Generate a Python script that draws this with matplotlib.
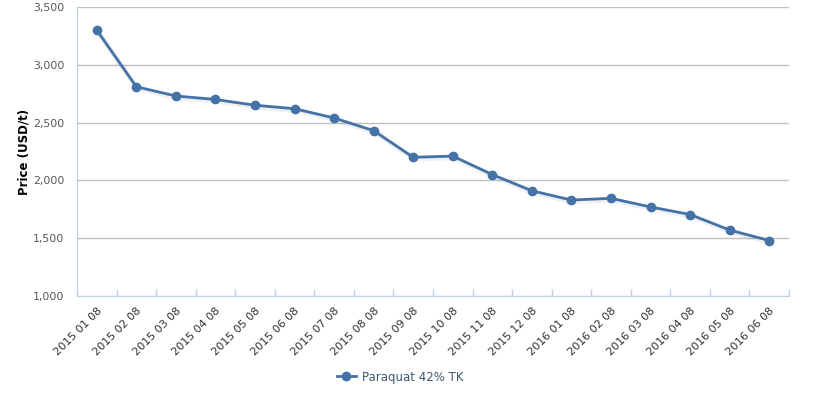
import numpy as np
import matplotlib.pyplot as plt
import matplotlib.transforms as mtransforms

# data
dates = ['2015 01 08', '2015 02 08', '2015 03 08', '2015 04 08', '2015 05 08', '2015 06 08',
         '2015 07 08', '2015 08 08', '2015 09 08', '2015 10 08', '2015 11 08', '2015 12 08',
         '2016 01 08', '2016 02 08', '2016 03 08', '2016 04 08', '2016 05 08', '2016 06 08']
prices = [3300, 2810, 2730, 2700, 2650, 2620, 2540, 2430, 2200, 2210, 2050, 1910,
          1830, 1845, 1770, 1705, 1570, 1480]
y_ticks = [1000, 1500, 2000, 2500, 3000, 3500]
series_name = 'Paraquat 42% TK'

line_color = '#4572A7'
grid_color = '#C0C0C0'
axis_color = '#C0D0E0'

fig = plt.figure(figsize=(8.35, 3.98), dpi=100)
ax = fig.add_axes([77 / 835, 1 - 296 / 398, 712 / 835, 289 / 398])

x = np.arange(len(dates))

# faint shadow under the line, like highcharts
shadow = mtransforms.offset_copy(ax.transData, fig=fig, x=1, y=-1.5, units='dots')
ax.plot(x, prices, color='#000000', alpha=0.06, lw=4, transform=shadow, zorder=2)
ax.plot(x, prices, color=line_color, lw=2, marker='o', ms=6, label=series_name, zorder=3)

ax.set_xlim(-0.5, len(dates) - 0.5)
ax.set_ylim(1000, 3500)
ax.set_yticks(y_ticks)
ax.set_yticklabels([f'{v:,}' for v in y_ticks])
ax.yaxis.grid(True, color=grid_color, lw=1)
ax.set_axisbelow(True)

# category ticks sit at the boundaries, labels at the centres
ax.set_xticks(x)
ax.set_xticklabels(dates, rotation=45, ha='right', rotation_mode='anchor',
                   fontsize=8, color='#333333')
ax.set_xticks(np.arange(-0.5, len(dates)), minor=True)
ax.tick_params(axis='x', which='major', length=0, pad=7)
ax.tick_params(axis='x', which='minor', direction='in', length=5, color=axis_color, width=1)
ax.tick_params(axis='y', length=0, labelsize=7.8, labelcolor='#555555', pad=9)

for side in ['top', 'right']:
    ax.spines[side].set_visible(False)
ax.spines['bottom'].set_color(axis_color)
ax.spines['left'].set_color(axis_color)

ax.set_ylabel('Price (USD/t)', fontsize=8.5, fontweight='bold', color='#000000', labelpad=2)

leg = fig.legend(loc='center', bbox_to_anchor=(400 / 835, 1 - 377 / 398), frameon=False,
                 fontsize=8.5, handlelength=1.6, handletextpad=0.5)
for t in leg.get_texts():
    t.set_color('#3E576F')

fig.savefig('out.png', dpi=100)
